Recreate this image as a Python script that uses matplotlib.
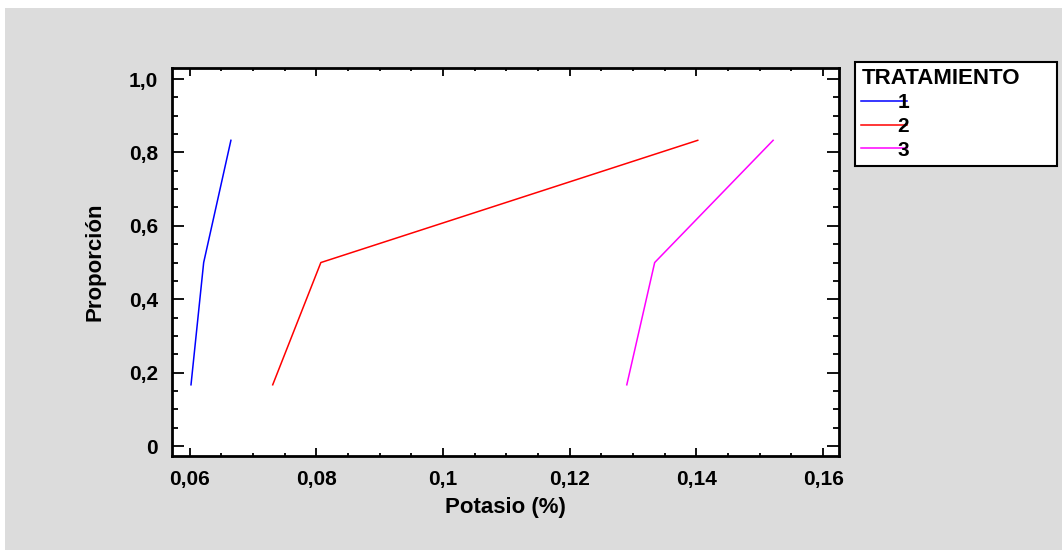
import matplotlib.pyplot as plt
from matplotlib.patches import Rectangle
from matplotlib.ticker import MultipleLocator, FuncFormatter

# datos
proporcion = [0.167, 0.5, 0.833]
potasio_t1 = [0.0602, 0.0622, 0.0665]
potasio_t2 = [0.0731, 0.0807, 0.1402]
potasio_t3 = [0.1290, 0.1334, 0.1521]
tratamientos = ["1", "2", "3"]
colores = ["#0000FF", "#FF0000", "#FF00FF"]

plt.rcParams["font.family"] = ["Liberation Sans", "DejaVu Sans"]
plt.rcParams["font.weight"] = "bold"

W, H = 1062, 550
fig = plt.figure(figsize=(W / 100, H / 100), dpi=100, facecolor="white")
fig.patches.append(Rectangle((5 / W, 0), 1 - 5 / W, 1 - 8 / H,
                             transform=fig.transFigure, facecolor="#DCDCDC",
                             edgecolor="none", zorder=-10))

ax = fig.add_axes([172 / W, 1 - 456 / H, (839 - 172) / W, (456 - 68) / H])
ax.set_facecolor("white")

for xs, lab, c in zip([potasio_t1, potasio_t2, potasio_t3], tratamientos, colores):
    ax.plot(xs, proporcion, color=c, lw=1.1, label=lab)

ax.set_xlim(0.0572, 0.1625)
ax.set_ylim(-0.027, 1.03)
ax.xaxis.set_major_locator(MultipleLocator(0.02))
ax.xaxis.set_minor_locator(MultipleLocator(0.005))
ax.yaxis.set_major_locator(MultipleLocator(0.2))
ax.yaxis.set_minor_locator(MultipleLocator(0.05))


def fmt_x(v, pos):
    s = f"{v:.2f}".rstrip("0")
    return s.replace(".", ",")


def fmt_y(v, pos):
    if abs(v) < 1e-9:
        return "0"
    return f"{v:.1f}".replace(".", ",")


ax.xaxis.set_major_formatter(FuncFormatter(fmt_x))
ax.yaxis.set_major_formatter(FuncFormatter(fmt_y))

ax.tick_params(which="both", direction="in", top=True, right=True,
               width=1.3, labelsize=15)
ax.tick_params(axis="x", which="major", length=5.8, pad=10)
ax.tick_params(axis="x", which="minor", length=2.2)
ax.tick_params(axis="y", which="major", length=8.6, pad=10)
ax.tick_params(axis="y", which="minor", length=4.3)
for s in ax.spines.values():
    s.set_linewidth(2)

ax.set_xlabel("Potasio (%)", fontsize=16, fontweight="bold", labelpad=6)
ax.set_ylabel("Proporción", fontsize=16, fontweight="bold", labelpad=17)

leg = fig.legend(loc="upper left",
                 bbox_to_anchor=(855 / W, 1 - 67 / H, (1057 - 855) / W, 0.01),
                 mode="expand", title="TRATAMIENTO", frameon=True,
                 fancybox=False, edgecolor="black", facecolor="white",
                 framealpha=1, fontsize=15, handlelength=2.2,
                 handletextpad=-0.45, labelspacing=0.22, borderpad=0.3,
                 borderaxespad=0, alignment="left")
leg.get_title().set_fontweight("bold")
leg.get_title().set_fontsize(16)
leg.get_frame().set_linewidth(1.5)

fig.savefig("out.png", dpi=100)
